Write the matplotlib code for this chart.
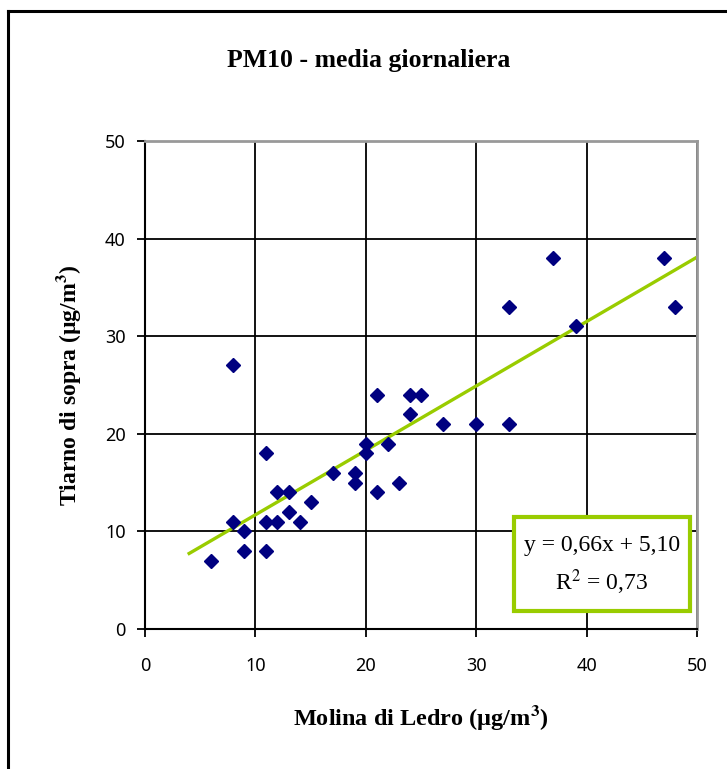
import numpy as np
import matplotlib.pyplot as plt
from matplotlib.patches import Rectangle
from matplotlib.lines import Line2D

# ---- data ----
molina = [6, 8, 8, 9, 9, 11, 11, 11, 12, 12, 13, 13, 14, 15, 17, 19, 19,
          20, 20, 21, 21, 22, 23, 24, 24, 25, 27, 30, 33, 33, 37, 39, 47, 48]
tiarno = [7, 27, 11, 10, 8, 18, 11, 8, 14, 11, 14, 12, 11, 13, 16, 16, 15,
          19, 18, 24, 14, 19, 15, 24, 22, 24, 21, 21, 33, 21, 38, 31, 38, 33]

slope, intercept = 0.66, 5.10
r2 = 0.73
trend_x = [4, 50]

ticks = [0, 10, 20, 30, 40, 50]

serif = ['Liberation Serif', 'DejaVu Serif']
green = '#99cc00'
navy = '#000080'

fig = plt.figure(figsize=(7.27, 7.69), dpi=100)
ax = fig.add_axes([145 / 727, 140 / 769, 552 / 727, 488 / 769])

# outer chart border (only left and top are visible)
fig.add_artist(Line2D([8 / 727, 8 / 727], [0, 1 - 11 / 769], color='black', lw=2.2))
fig.add_artist(Line2D([8 / 727, 1], [1 - 11 / 769, 1 - 11 / 769], color='black', lw=2.2))

ax.set_xlim(0, 50)
ax.set_ylim(0, 50)
ax.set_xticks(ticks)
ax.set_yticks(ticks)
ax.grid(True, color='black', lw=1.3)
ax.set_axisbelow(True)

for s in ['left', 'bottom']:
    ax.spines[s].set_color('black')
    ax.spines[s].set_linewidth(1.5)
for s in ['top', 'right']:
    ax.spines[s].set_color('#999999')
    ax.spines[s].set_linewidth(2)

ax.tick_params(direction='out', length=6, width=1.3, labelsize=13, colors='black')
ax.tick_params(axis='x', pad=14)
ax.tick_params(axis='y', pad=8)
for lab in ax.get_xticklabels() + ax.get_yticklabels():
    lab.set_family(['Noto Sans', 'DejaVu Sans'])

xs = np.array(trend_x)
ax.plot(xs, slope * xs + intercept, color=green, lw=2.4, zorder=2)
ax.plot(molina, tiarno, linestyle='none', marker='D', ms=7.5, color=navy, zorder=3)

ax.set_xlabel('Molina di Ledro (µg/m$^{\\mathbf{3}}$)', family=serif, fontweight='bold',
              fontsize=17.5, labelpad=20, math_fontfamily='stix')
ax.set_ylabel('Tiarno di sopra (µg/m$^{\\mathbf{3}}$)', family=serif, fontweight='bold',
              fontsize=17, labelpad=16, math_fontfamily='stix')

fig.text(369 / 727, 1 - 60 / 769, 'PM10 - media giornaliera', family=serif,
         fontweight='bold', fontsize=18.5, ha='center', va='center')

# equation box
box = Rectangle((514 / 727, 1 - 611 / 769), 176 / 727, 94 / 769,
                transform=fig.transFigure, facecolor='white',
                edgecolor=green, lw=3, zorder=5)
fig.add_artist(box)
fig.text(602 / 727, 1 - 546 / 769, 'y = 0,66x + 5,10', family=serif,
         fontsize=17, ha='center', va='center', zorder=6)
fig.text(602 / 727, 1 - 582 / 769, 'R$^2$ = 0,73', family=serif,
         fontsize=17, ha='center', va='center', zorder=6,
         math_fontfamily='stix')

fig.savefig('out.png', dpi=100)
